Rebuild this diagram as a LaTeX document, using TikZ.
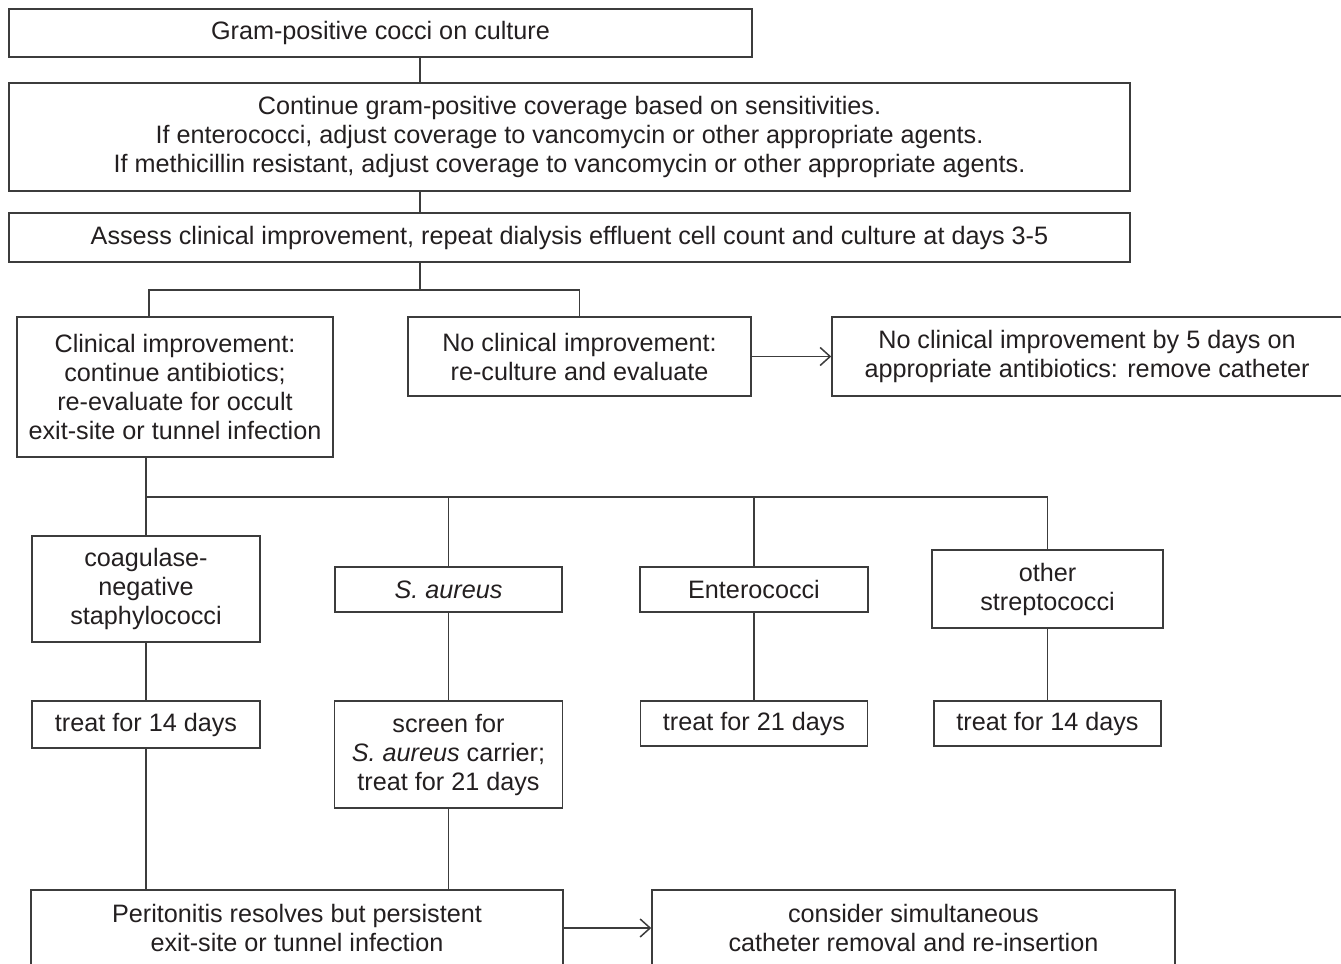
\documentclass[tikz,border=0pt]{standalone}
\usepackage{fontspec}
\setmainfont{Liberation Sans}
\usetikzlibrary{arrows.meta, positioning}

\definecolor{linegray}{HTML}{3C3C3C}
\definecolor{textgray}{HTML}{231F20}

\begin{document}
\begin{tikzpicture}[x=0.5pt, y=-0.5pt,
		box/.style={draw=linegray, line width=0.75pt, inner sep=0pt, align=center, text=textgray, font=\fontsize{12.6}{14.5}\selectfont},
		link/.style={draw=linegray, line width=0.75pt},
		arrowlink/.style={link, -{Straight Barb[length=5pt, width=9pt]}}]
				\useasboundingbox (0,0) rectangle (1341,964);
				\clip (0,0) rectangle (1341,964);

				% Top of the chart
				\node[box, minimum width=371.5pt, minimum height=24pt] (culture) at (380.5,33) {Gram-positive cocci on culture};
				\node[box, minimum width=560.5pt, minimum height=54pt] (coverage) at (569.5,137) {Continue gram-positive coverage based on sensitivities.\\ If enterococci, adjust coverage to vancomycin or other appropriate agents.\\ If methicillin resistant, adjust coverage to vancomycin or other appropriate agents.};
				\node[box, minimum width=560.5pt, minimum height=24.5pt] (assess) at (569.5,237.5) {Assess clinical improvement, repeat dialysis effluent cell count and culture at days 3-5};

				% Improvement or not
				\node[box, minimum width=158pt, minimum height=70pt] (improve) at (175,387) {Clinical improvement:\\ continue antibiotics;\\ re-evaluate for occult\\ exit-site or tunnel infection};
				\node[box, minimum width=171.5pt, minimum height=39.5pt] (noimprove) at (579.5,356.5) {No clinical improvement:\\ re-culture and evaluate};
				\node[box, minimum width=255pt, minimum height=39.5pt] (remove) at (1087,356.5) {No clinical improvement by 5 days on\\ appropriate antibiotics: remove catheter};

				% Organisms
				\node[box, minimum width=114pt, minimum height=53pt] (coag) at (146,589) {coagulase-\\ negative\\ staphylococci};
				\node[box, minimum width=113.5pt, minimum height=22.5pt] (saureus) at (448.5,589.5) {\textit{S. aureus}};
				\node[box, minimum width=114pt, minimum height=22.5pt] (entero) at (754,589.5) {Enterococci};
				\node[box, minimum width=115.5pt, minimum height=39pt] (strep) at (1047.5,589) {other\\ streptococci};

				% Treatment
				\node[box, minimum width=114pt, minimum height=23.5pt] (treatcns) at (146,724.5) {treat for 14 days};
				\node[box, minimum width=114pt, minimum height=53.5pt] (screen) at (448.5,754.5) {screen for\\ \textit{S. aureus} carrier;\\ treat for 21 days};
				\node[box, minimum width=113.5pt, minimum height=22.5pt] (treatent) at (754,723.5) {treat for 21 days};
				\node[box, minimum width=113.5pt, minimum height=22.5pt] (treatstrep) at (1047.5,723.5) {treat for 14 days};

				% Bottom row
				\node[box, minimum width=266pt, minimum height=38pt] (resolves) at (297,928) {Peritonitis resolves but persistent\\ exit-site or tunnel infection};
				\node[box, minimum width=261.5pt, minimum height=38pt] (reinsert) at (913.5,928) {consider simultaneous\\ catheter removal and re-insertion};

				% Branch points
				\coordinate (trunk) at (420,0);
				\coordinate (split) at (149,290);
				\coordinate (branch) at (146,497);

				% Connectors
				\draw[link] (culture.south -| trunk) -- (coverage.north -| trunk);
				\draw[link] (coverage.south -| trunk) -- (assess.north -| trunk);
				\draw[link] (assess.south -| trunk) -- (trunk |- split);
				\draw[link] (improve.north -| split) -- (split) -| (noimprove.north);
				\draw[arrowlink] (noimprove.east) -- (remove.west);

				\draw[link] (improve.south -| branch) -- (branch) -| (strep.north);
				\draw[link] (branch) -- (coag.north);
				\draw[link] (branch -| saureus) -- (saureus.north);
				\draw[link] (branch -| entero) -- (entero.north);
				\foreach \from/\to in {coag/treatcns, saureus/screen, entero/treatent, strep/treatstrep}
					\draw[link] (\from) -- (\to);

				\draw[link] (treatcns) -- (treatcns |- resolves.north);
				\draw[link] (screen) -- (screen |- resolves.north);
				\draw[arrowlink] (resolves.east) -- (reinsert.west);
			\end{tikzpicture}
\end{document}
